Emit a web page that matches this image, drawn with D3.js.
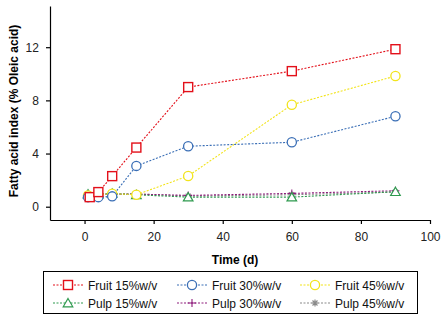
<!DOCTYPE html>
<html><head><meta charset="utf-8">
<script src="https://cdn.jsdelivr.net/npm/d3@7"></script>
<style>body{margin:0;background:#fff}svg{display:block;font-family:"Liberation Sans",Arial,sans-serif}</style>
</head><body><svg id="c" width="444" height="320"></svg>
<script>
const seriesNames = ["Fruit 15%w/v","Fruit 30%w/v","Fruit 45%w/v","Pulp 15%w/v","Pulp 30%w/v","Pulp 45%w/v"];
const days = [1,4,8,15,30,60,90];
const fruit15Days = [1.5,4,8,15,30,60,90];
const fruit15 = [0.72,1.1,2.3,4.45,9.0,10.2,11.85];
const fruit30 = [0.72,0.72,0.78,3.07,4.55,4.85,6.8];
const fruit45 = [0.85,0.9,0.98,0.9,2.31,7.67,9.83];
const pulp15 = [0.95,0.95,1.0,0.9,0.72,0.72,1.13];
const pulp30 = [0.9,0.9,0.95,0.95,0.85,1.0,1.2];
const pulp45 = [0.9,0.95,0.95,0.95,0.8,0.9,1.1];
const xTicks = [0,20,40,60,80,100];
const yTicks = [0,4,8,12];

const colors = ["#e3101a","#3b6fb6","#f2e41c","#2f9a4f","#8e1c7c","#8a8a8a"];
const symbols = ["square","circle","circle","triangle","plus","star"];
const series = [
  {name:seriesNames[0], x:fruit15Days, y:fruit15},
  {name:seriesNames[1], x:days, y:fruit30},
  {name:seriesNames[2], x:days, y:fruit45},
  {name:seriesNames[3], x:days, y:pulp15},
  {name:seriesNames[4], x:days, y:pulp30},
  {name:seriesNames[5], x:days, y:pulp45}
];

const svg = d3.select("#c");
const x = d3.scaleLinear().domain([-10,100]).range([50,430]);
const y = d3.scaleLinear().domain([-1,15.1]).range([220,6]);

function drawMarker(g, type, color, cx, cy){
  if(type==="square"){
    g.append("rect").attr("x",cx-4.5).attr("y",cy-4.5).attr("width",9).attr("height",9)
     .attr("fill","#fff").attr("stroke",color).attr("stroke-width",1.4);
  } else if(type==="circle"){
    g.append("circle").attr("cx",cx).attr("cy",cy).attr("r",4.6)
     .attr("fill","#fff").attr("stroke",color).attr("stroke-width",1.3);
  } else if(type==="triangle"){
    g.append("path").attr("d",`M${cx},${cy-4.5}L${cx+4.8},${cy+3.8}L${cx-4.8},${cy+3.8}Z`)
     .attr("fill","#fff").attr("stroke",color).attr("stroke-width",1.2);
  } else if(type==="plus"){
    g.append("path").attr("d",`M${cx-4},${cy}H${cx+4}M${cx},${cy-4}V${cx+4-cx+cy}`)
     .attr("fill","none").attr("stroke",color).attr("stroke-width",1.1);
  } else if(type==="star"){
    g.append("path").attr("d",`M${cx-3.5},${cy}H${cx+3.5}M${cx},${cy-3.5}V${cy+3.5}M${cx-2.5},${cy-2.5}L${cx+2.5},${cy+2.5}M${cx-2.5},${cy+2.5}L${cx+2.5},${cy-2.5}`)
     .attr("fill","none").attr("stroke",color).attr("stroke-width",1.2);
  }
}

// axes
const xAxis = d3.axisBottom(x).tickValues(xTicks).tickSize(4).tickSizeOuter(0);
const yAxis = d3.axisLeft(y).tickValues(yTicks).tickSize(4).tickSizeOuter(0);
const gx = svg.append("g").attr("transform","translate(0,220)").call(xAxis);
const gy = svg.append("g").attr("transform","translate(50,0)").call(yAxis);
[gx,gy].forEach(g=>{
  g.select(".domain").attr("stroke","#000").attr("stroke-width",1.2);
  g.selectAll(".tick line").attr("stroke","#000").attr("stroke-width",1.2);
  g.selectAll(".tick text").attr("font-size",12).attr("fill","#222").attr("font-family","Liberation Sans, Arial, sans-serif");
});
gx.selectAll(".tick text").attr("dy","1.2em");
gy.selectAll(".tick text").attr("dx","-0.35em");

svg.append("text").attr("x",235).attr("y",264).attr("text-anchor","middle")
  .attr("font-size",12).attr("font-weight","bold").text("Time (d)");
svg.append("text").attr("transform","translate(18,111) rotate(-90)").attr("text-anchor","middle")
  .attr("font-size",12).attr("font-weight","bold").text("Fatty acid index (% Oleic acid)");

// lines and markers (draw pulp first, then fruit on top)
const order = [5,4,3,2,1,0];
const line = d3.line().x(d=>x(d[0])).y(d=>y(d[1]));
order.forEach(i=>{
  const s = series[i];
  const pts = s.x.map((v,j)=>[v,s.y[j]]);
  svg.append("path").attr("d",line(pts)).attr("fill","none")
    .attr("stroke",colors[i]).attr("stroke-width",1.1).attr("stroke-dasharray","2,1.5");
});
order.forEach(i=>{
  const s = series[i];
  const g = svg.append("g");
  s.x.forEach((v,j)=>drawMarker(g,symbols[i],colors[i],x(v),y(s.y[j])));
});

// legend
svg.append("rect").attr("x",43.5).attr("y",271.5).attr("width",374).attr("height",42)
  .attr("fill","#fff").attr("stroke","#000").attr("stroke-width",1);
const colX = [53,177,300];
const rowY = [285,303];
series.forEach((s,i)=>{
  const cx = colX[i%3], cy = rowY[Math.floor(i/3)];
  const g = svg.append("g");
  g.append("line").attr("x1",cx).attr("x2",cx+30).attr("y1",cy).attr("y2",cy)
    .attr("stroke",colors[i]).attr("stroke-width",1.1).attr("stroke-dasharray","2,1.5");
  drawMarker(g,symbols[i],colors[i],cx+15,cy);
  g.append("text").attr("x",cx+35).attr("y",cy+4.5).attr("font-size",12).attr("fill","#111").text(s.name);
});
</script></body></html>
